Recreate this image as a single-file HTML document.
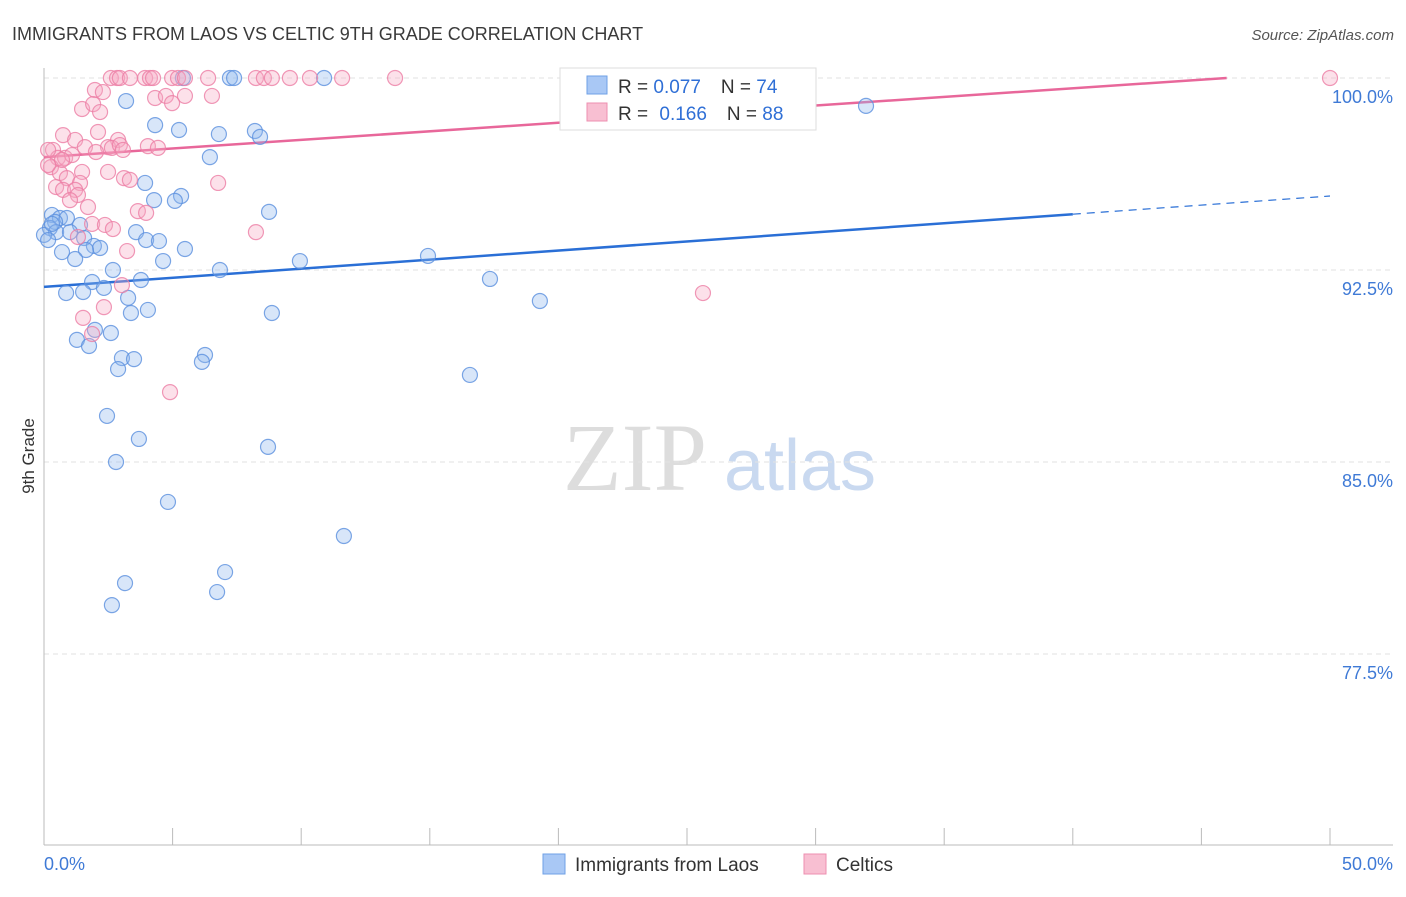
<!DOCTYPE html>
<html><head><meta charset="utf-8"><style>
body{margin:0;background:#fff;font-family:"Liberation Sans",sans-serif}
</style></head><body>
<svg id="chart" width="1406" height="892" xmlns="http://www.w3.org/2000/svg" font-family="Liberation Sans, sans-serif">
<text x="12" y="40" font-size="18" fill="#3a3a3a">IMMIGRANTS FROM LAOS VS CELTIC 9TH GRADE CORRELATION CHART</text>
<text x="1394" y="40" font-size="15" fill="#555" text-anchor="end" font-style="italic">Source: ZipAtlas.com</text>
<text transform="translate(34,456) rotate(-90)" font-size="17" fill="#333" text-anchor="middle">9th Grade</text>
<g><text x="635" y="490" font-size="96" fill="#ddd" text-anchor="middle" font-family="Liberation Serif, serif">ZIP</text><text x="800" y="490" font-size="72" fill="#c9d9f0" text-anchor="middle">atlas</text></g>
<g id="grid"></g><g id="axes"></g><g id="lines"></g><g id="pts"></g>
<g>
<rect x="560" y="68" width="256" height="62" fill="#fff" stroke="#ddd"/>
<rect x="587" y="76" width="20" height="18" fill="#a9c8f5" stroke="#6fa0e6"/>
<rect x="587" y="103" width="20" height="18" fill="#f8bfd2" stroke="#ee8fb0"/>
<text x="618" y="93" font-size="19" fill="#333">R = <tspan fill="#2f6fd6">0.077</tspan><tspan dx="20">N = </tspan><tspan fill="#2f6fd6">74</tspan></text>
<text x="618" y="120" font-size="19" fill="#333">R = <tspan fill="#2f6fd6" dx="6">0.166</tspan><tspan dx="20">N = </tspan><tspan fill="#2f6fd6">88</tspan></text>
</g>
<g>
<rect x="543" y="854" width="22" height="20" fill="#a9c8f5" stroke="#6fa0e6"/>
<text x="575" y="871" font-size="19" fill="#333">Immigrants from Laos</text>
<rect x="804" y="854" width="22" height="20" fill="#f8bfd2" stroke="#ee8fb0"/>
<text x="836" y="871" font-size="19" fill="#333">Celtics</text>
</g>
</svg>
<script>
const yTicks=[100,92.5,85,77.5];
const yTickLabels=["100.0%","92.5%","85.0%","77.5%"];
const xTickLabels=["0.0%","50.0%"];
const blueX=[3.19,5.40,7.23,7.39,10.89,31.96,4.32,5.25,6.80,8.20,8.40,6.45,3.93,5.33,5.09,4.28,8.75,0.31,0.62,0.89,0.43,1.40,0.23,0.47,1.01,3.58,1.56,3.97,4.47,5.48,0.70,1.94,2.18,1.63,1.21,4.63,9.95,14.93,2.68,6.84,17.34,3.77,1.87,2.33,0.86,1.52,3.27,19.28,4.04,3.38,8.86,1.98,2.60,1.28,1.75,6.26,3.03,3.50,6.14,2.88,16.56,2.45,3.69,8.71,2.80,4.82,11.66,7.04,3.15,6.73,2.64,0,0.16,0.31];
const blueY=[99.10,100,100,100,100,98.91,98.16,97.97,97.81,97.93,97.70,96.91,95.90,95.39,95.20,95.23,94.77,94.65,94.53,94.53,94.38,94.26,94.14,93.98,93.98,93.98,93.75,93.67,93.63,93.32,93.20,93.44,93.36,93.28,92.93,92.85,92.85,93.05,92.5,92.5,92.15,92.11,92.03,91.80,91.60,91.64,91.41,91.29,90.94,90.82,90.82,90.16,90.04,89.77,89.53,89.18,89.06,89.02,88.91,88.63,88.40,86.80,85.90,85.59,85.0,83.44,82.11,80.70,80.27,79.92,79.41,93.87,93.67,94.30];
const pinkX=[2.60,2.84,2.95,3.34,3.93,4.12,4.24,4.98,5.21,5.48,6.38,8.24,8.55,8.86,9.56,10.34,11.59,13.65,50,1.98,2.29,4.32,4.74,5.48,6.53,1.48,1.91,2.18,4.98,0.74,1.21,2.10,2.88,1.59,2.49,2.64,2.95,3.07,4.04,4.43,2.02,0.35,0.54,0.82,1.09,0.27,0.62,1.48,2.49,3.11,3.34,0.89,1.40,0.47,0.74,1.21,1.32,1.01,6.77,1.71,3.65,3.97,1.87,2.37,2.68,1.32,8.24,3.23,3.03,2.33,1.52,25.62,1.87,4.90,0.70,0.16,0.16];
const pinkY=[100,100,100,100,100,100,100,100,100,100,100,100,100,100,100,100,100,100,100,99.53,99.45,99.22,99.30,99.30,99.30,98.79,98.98,98.67,99.02,97.77,97.58,97.89,97.58,97.30,97.30,97.27,97.38,97.19,97.34,97.27,97.11,97.19,96.88,96.88,96.99,96.52,96.29,96.33,96.33,96.09,96.02,96.09,95.90,95.74,95.63,95.63,95.43,95.23,95.90,94.96,94.80,94.73,94.30,94.26,94.10,93.79,93.98,93.24,91.91,91.05,90.63,91.60,90.0,87.73,96.80,96.60,97.19];
const blueTrend=[91.84,95.39];
const pinkTrend=[96.91,100.27];
const NS="http://www.w3.org/2000/svg";
const X=v=>44+v*25.72, Y=v=>78+(100-v)*25.6;
function mk(p,t,a){const e=document.createElementNS(NS,t);for(const k in a)e.setAttribute(k,a[k]);document.getElementById(p).appendChild(e);return e;}
yTicks.forEach((t,i)=>{
 const g=mk('grid','line',{x1:44,x2:1393,y1:Y(t),y2:Y(t),stroke:'#e2e2e2','stroke-dasharray':'5,4'});
 
 
 const l=mk('axes','text',{x:1393,y:Y(t)+25,'font-size':18,fill:'#3f7ad6','text-anchor':'end'});l.textContent=yTickLabels[i];
 
 
});
mk('axes','line',{x1:44,x2:44,y1:68,y2:845,stroke:'#bbb'});
mk('axes','line',{x1:44,x2:1393,y1:845,y2:845,stroke:'#bbb'});
for(let i=0;i<=10;i++){const t=mk('axes','line',{x1:X(i*5),x2:X(i*5),y1:828,y2:845,stroke:'#bbb'});
 
 }
[0,50].forEach((v,i)=>{const l=mk('axes','text',{x:i?1393:44,y:870,'font-size':18,fill:'#3f7ad6','text-anchor':i?'end':'start'});l.textContent=xTickLabels[i];
 
 });
function draw(xs,ys,fill,stroke,name){xs.forEach((x,i)=>{const c=mk('pts','circle',{cx:X(x),cy:Y(ys[i]),r:7.5,fill:fill,'fill-opacity':0.35,stroke:stroke,'stroke-width':1.2,'stroke-opacity':0.8});
 
 });}
draw(blueX,blueY,'#8fb6ef','#5b90df','laos-point');
draw(pinkX,pinkY,'#f6a9c4','#ec7ea5','celtic-point');
const bx=40;const by=blueTrend[0]+(blueTrend[1]-blueTrend[0])*bx/50;
let l1=mk('lines','line',{x1:X(0),y1:Y(blueTrend[0]),x2:X(bx),y2:Y(by),stroke:'#2a6fd6','stroke-width':2.5});


let l2=mk('lines','line',{x1:X(bx),y1:Y(by),x2:X(50),y2:Y(blueTrend[1]),stroke:'#2a6fd6','stroke-width':1.2,'stroke-dasharray':'8,6'});


const px=(100-pinkTrend[0])/(pinkTrend[1]-pinkTrend[0])*50;
let l3=mk('lines','line',{x1:X(0),y1:Y(pinkTrend[0]),x2:X(Math.min(50,px)),y2:Y(Math.min(100,pinkTrend[1])),stroke:'#e8679a','stroke-width':2.5});


</script>
</body></html>
